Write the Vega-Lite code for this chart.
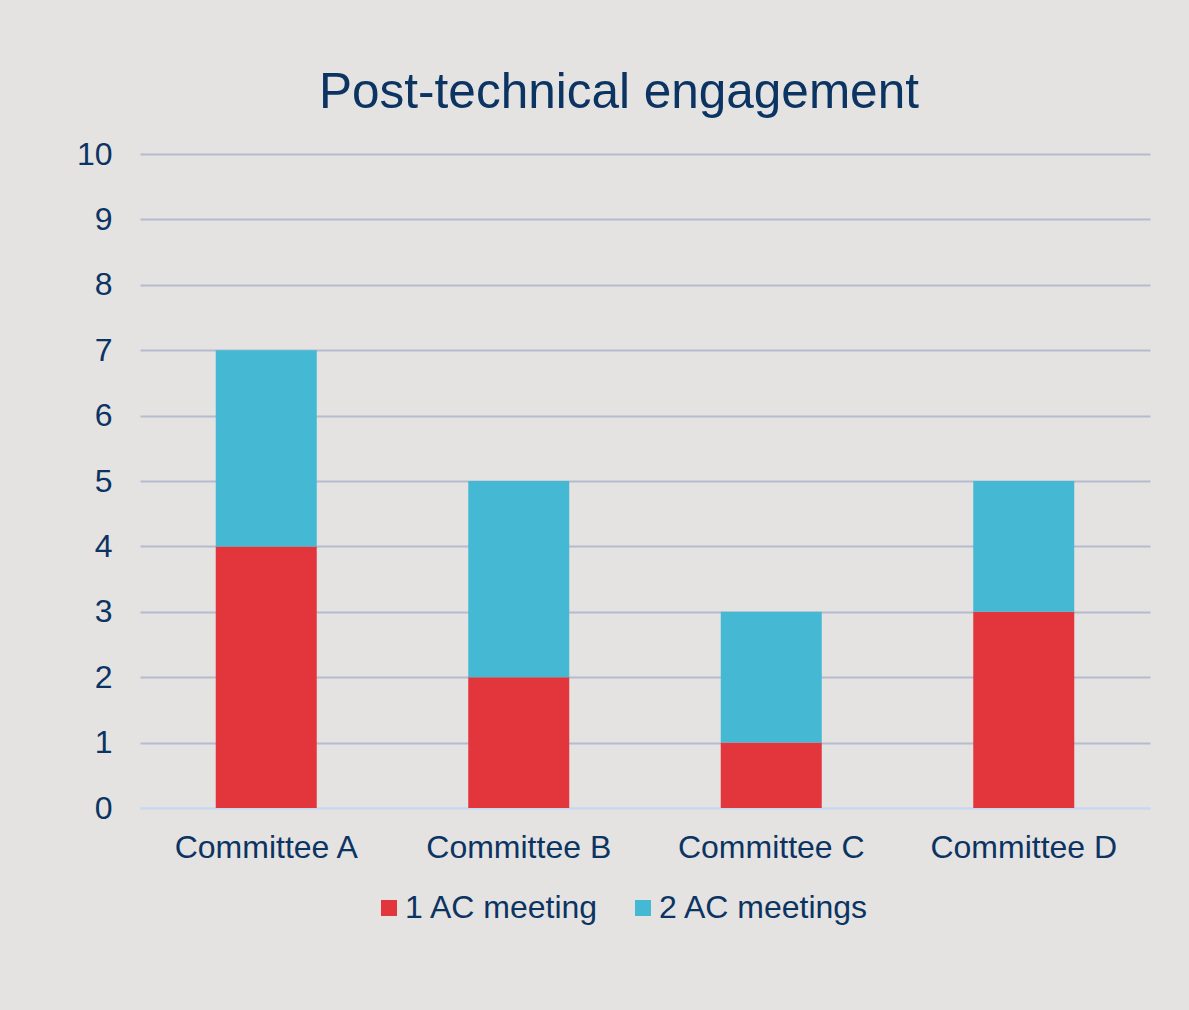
{
  "$schema": "https://vega.github.io/schema/vega-lite/v6.json",
  "width": 1010,
  "height": 654,
  "autosize": "none",
  "padding": {"left": 140, "top": 154, "right": 39, "bottom": 202},
  "background": "#E4E3E1",
  "title": {
    "text": "Post-technical engagement",
    "font": "Liberation Sans",
    "fontSize": 49.5,
    "fontWeight": "normal",
    "color": "#0C3463",
    "anchor": "middle",
    "dx": -26,
    "offset": 20
  },
  "data": {
    "values": [
      {"committee": "Committee A", "type": "1 AC meeting", "count": 4},
      {"committee": "Committee A", "type": "2 AC meetings", "count": 3},
      {"committee": "Committee B", "type": "1 AC meeting", "count": 2},
      {"committee": "Committee B", "type": "2 AC meetings", "count": 3},
      {"committee": "Committee C", "type": "1 AC meeting", "count": 1},
      {"committee": "Committee C", "type": "2 AC meetings", "count": 2},
      {"committee": "Committee D", "type": "1 AC meeting", "count": 3},
      {"committee": "Committee D", "type": "2 AC meetings", "count": 2}
    ]
  },
  "mark": {"type": "bar"},
  "encoding": {
    "x": {
      "field": "committee",
      "type": "nominal",
      "title": null,
      "scale": {"paddingInner": 0.6, "paddingOuter": 0.3},
      "axis": {
        "labelAngle": 0,
        "labelFont": "Liberation Sans",
        "labelFontSize": 32,
        "labelColor": "#0C3463",
        "labelPadding": 24,
        "labelLimit": 300,
        "ticks": false,
        "domainColor": "#C6D9F1",
        "domainWidth": 2
      }
    },
    "y": {
      "field": "count",
      "type": "quantitative",
      "title": null,
      "stack": "zero",
      "scale": {"domain": [0, 10]},
      "axis": {
        "values": [0, 1, 2, 3, 4, 5, 6, 7, 8, 9, 10],
        "labelFont": "Liberation Sans",
        "labelFontSize": 32,
        "labelColor": "#0C3463",
        "labelPadding": 28,
        "ticks": false,
        "domain": false,
        "grid": true,
        "gridColor": {"condition": {"test": "datum.value === 0", "value": "#C6D9F1"}, "value": "#B5BCCF"},
        "gridWidth": 2
      }
    },
    "order": {"field": "type", "sort": "ascending"},
    "color": {
      "field": "type",
      "type": "nominal",
      "title": null,
      "scale": {"domain": ["1 AC meeting", "2 AC meetings"], "range": ["#E3363C", "#45B8D3"]},
      "legend": {
        "orient": "none",
        "legendX": 233,
        "legendY": 738,
        "direction": "horizontal",
        "symbolType": "square",
        "symbolSize": 256,
        "symbolStrokeWidth": 0,
        "labelFont": "Liberation Sans",
        "labelFontSize": 32,
        "labelColor": "#0C3463",
        "labelOffset": 0,
        "columnPadding": 28,
        "labelLimit": 400
      }
    }
  },
  "config": {
    "view": {"stroke": null}
  }
}
